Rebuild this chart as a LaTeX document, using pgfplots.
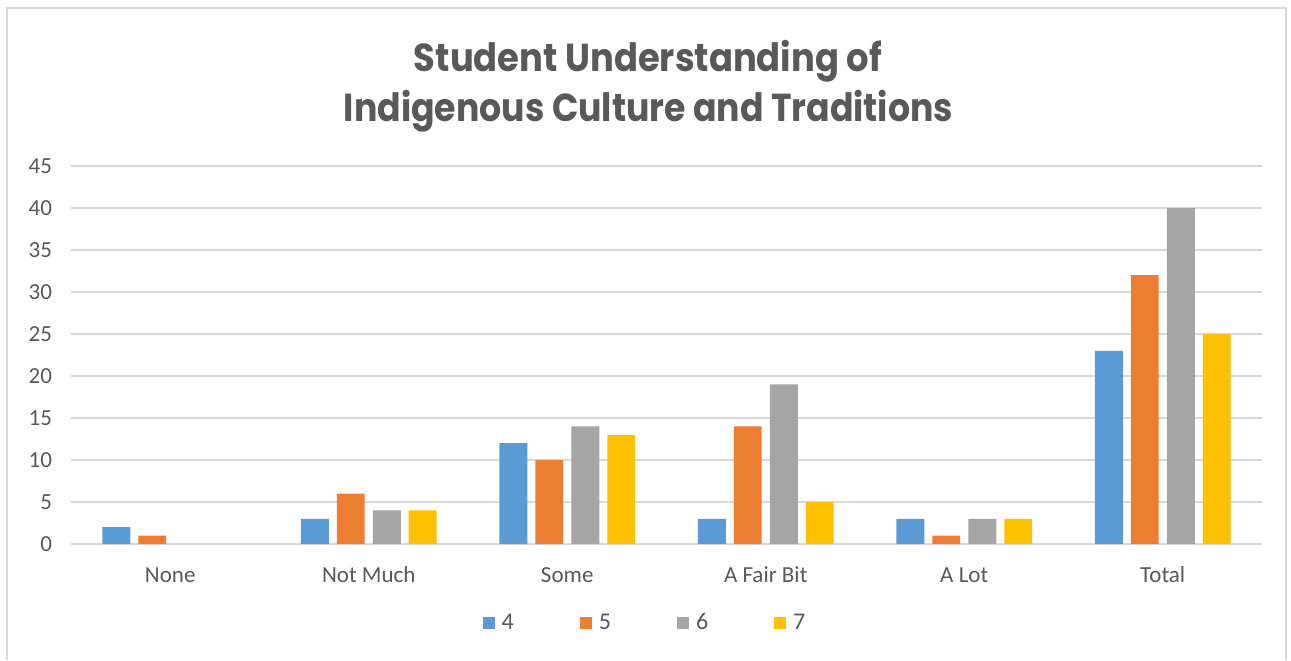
\documentclass[border=0pt]{standalone}
\usepackage{pgfplots}
\pgfplotsset{compat=1.18}
\usepackage{fontspec}
\setmainfont{Carlito}
\newfontfamily\titlefont{Poppins}
\usepackage{graphicx}
\definecolor{txt}{HTML}{595959}
\definecolor{grd}{HTML}{D9D9D9}
\definecolor{c4}{HTML}{5B9BD5}
\definecolor{c5}{HTML}{ED7D31}
\definecolor{c6}{HTML}{A5A5A5}
\definecolor{c7}{HTML}{FFC000}
\begin{document}
\begin{tikzpicture}
\useasboundingbox (0,0) rectangle (645.5pt,330pt);
\draw[grd, line width=1pt] (3.5pt,0) -- (3.5pt,326pt) -- (643pt,326pt) -- (643pt,0);
\node[anchor=base, text=txt, inner sep=0pt] at (324pt,294pt) {\resizebox{234pt}{\height}{\titlefont\bfseries\fontsize{19.5}{24}\selectfont Student Understanding of}};
\node[anchor=base, text=txt, inner sep=0pt] at (324.25pt,269pt) {\resizebox{304.5pt}{\height}{\titlefont\bfseries\fontsize{19.5}{24}\selectfont Indigenous Culture and Traditions}};
\begin{axis}[
  at={(35.5pt,58pt)}, anchor=south west,
  scale only axis, width=595.5pt, height=189pt,
  xmin=-0.5, xmax=5.5, ymin=0, ymax=45,
  ytick={0,5,...,45},
  xtick={0,...,5},
  xticklabels={None,Not Much,Some,A Fair Bit,A Lot,Total},
  axis line style={draw=none},
  major tick length=0pt,
  ymajorgrids,
  grid style={grd, line width=0.75pt},
  clip=false,
  /pgf/number format/assume math mode=true,
  tick label style={font=\fontsize{11.5}{13}\selectfont, text=txt},
  yticklabel style={anchor=east, xshift=-6pt},
  xticklabel style={anchor=base, yshift=-19pt},
  legend columns=4,
  legend style={at={(0.4828,-0.209)}, anchor=center, draw=none, fill=none,
    font=\fontsize{12}{14}\selectfont, text=txt,
    /tikz/every odd column/.append style={column sep=1.5pt},
    /tikz/every even column/.append style={column sep=31pt}},
  legend image code/.code={\fill[#1] (0pt,-3pt) rectangle (6pt,3pt);},
]
\addplot[ybar, bar width=0.141, bar shift=-0.272, fill=c4, draw=none] coordinates {(0,2) (1,3) (2,12) (3,3) (4,3) (5,23)};
\addplot[ybar, bar width=0.141, bar shift=-0.0907, fill=c5, draw=none] coordinates {(0,1) (1,6) (2,10) (3,14) (4,1) (5,32)};
\addplot[ybar, bar width=0.141, bar shift=0.0907, fill=c6, draw=none] coordinates {(1,4) (2,14) (3,19) (4,3) (5,40)};
\addplot[ybar, bar width=0.141, bar shift=0.272, fill=c7, draw=none] coordinates {(1,4) (2,13) (3,5) (4,3) (5,25)};
\legend{4,5,6,7}
\end{axis}
\end{tikzpicture}
\end{document}
